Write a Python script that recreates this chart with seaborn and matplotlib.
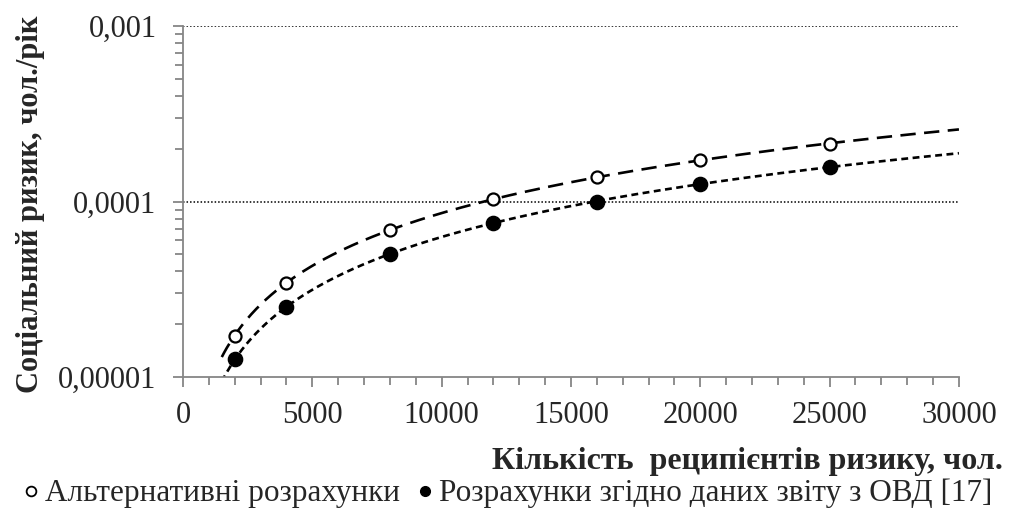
import numpy as np
import pandas as pd
import seaborn as sns
import matplotlib.pyplot as plt
import matplotlib.ticker as ticker
from matplotlib.lines import Line2D

# values
recipients = [2000, 4000, 8000, 12000, 16000, 20000, 25000]
risk_alt = [1.71e-5, 3.43e-5, 6.88e-5, 1.03e-4, 1.38e-4, 1.72e-4, 2.14e-4]
risk_ovd = [1.27e-5, 2.51e-5, 5.02e-5, 7.54e-5, 1.00e-4, 1.26e-4, 1.57e-4]
y_ticks = [1e-5, 1e-4, 1e-3]
y_tick_labels = ['0,00001', '0,0001', '0,001']
x_ticks = [0, 5000, 10000, 15000, 20000, 25000, 30000]
label_alt = 'Альтернативні розрахунки'
label_ovd = 'Розрахунки згідно даних звіту з ОВД [17]'

sns.set_style('ticks')
plt.rcParams['font.family'] = ['Liberation Serif', 'DejaVu Serif']

df = pd.DataFrame({'n': recipients, 'alt': risk_alt, 'ovd': risk_ovd})

fig = plt.figure(figsize=(10.11, 5.17), dpi=100)
ax = fig.add_axes([0.181, 0.2708, 0.7675, 0.6789])

# linear trendlines fitted to each series
x_fit = np.linspace(1500, 30000, 300)
for col, dash in [('alt', (5.8, 3.2)), ('ovd', (2.6, 1.7))]:
    k, b = np.polyfit(df['n'], df[col], 1)
    sns.lineplot(x=x_fit, y=k * x_fit + b, ax=ax, color='black', lw=1.9, zorder=2).lines[-1].set_dashes(dash)

sns.scatterplot(data=df, x='n', y='alt', ax=ax, marker='o', s=75, facecolor='white',
                edgecolor='black', linewidth=1.6, zorder=3)
sns.scatterplot(data=df, x='n', y='ovd', ax=ax, marker='o', s=105, color='black',
                edgecolor='black', linewidth=1, zorder=3)

ax.set_yscale('log')
ax.set_ylim(1e-5, 1e-3)
ax.set_xlim(0, 30000)
ax.set_yticks(y_ticks)
ax.yaxis.set_major_formatter(ticker.FixedFormatter(y_tick_labels))
ax.yaxis.set_minor_locator(ticker.LogLocator(base=10, subs=np.arange(2, 10)))
ax.yaxis.set_minor_formatter(ticker.NullFormatter())
ax.set_xticks(x_ticks)
ax.xaxis.set_minor_locator(ticker.MultipleLocator(1000))

for y in y_ticks[1:]:
    ax.axhline(y, color='black', lw=1.1, ls=(0, (1, 1.3)), zorder=1)

sns.despine(ax=ax)
for side in ['left', 'bottom']:
    ax.spines[side].set_color('#868686')
    ax.spines[side].set_linewidth(1.3)
ax.tick_params(axis='both', which='major', labelsize=22, color='#868686', width=1.3, length=7)
ax.tick_params(axis='y', which='major', pad=12)
ax.tick_params(axis='x', which='major', pad=10)
ax.tick_params(axis='both', which='minor', color='#868686', width=1.3, length=6)

ax.set_xlabel('Кількість  реципієнтів ризику, чол.', fontsize=23, fontweight='bold')
ax.xaxis.set_label_coords(1.0567, -0.242)
ax.xaxis.label.set_horizontalalignment('right')
ax.xaxis.label.set_verticalalignment('center')
ax.set_ylabel('Соціальний ризик, чол./рік', fontsize=22, fontweight='bold')
ax.yaxis.set_label_coords(-0.178, 0.493)

handles = [
    Line2D([], [], ls='none', marker='o', ms=7, mfc='white', mec='black', mew=1.3),
    Line2D([], [], ls='none', marker='o', ms=7, mfc='black', mec='black'),
]
fig.legend(handles, [label_alt, label_ovd], loc='center', bbox_to_anchor=(0.5, 0.045), ncol=2,
           frameon=False, fontsize=22.5, handletextpad=0.05, columnspacing=0.4, handlelength=0.8,
           borderpad=0, borderaxespad=0)

fig.savefig('out.png', dpi=100)
